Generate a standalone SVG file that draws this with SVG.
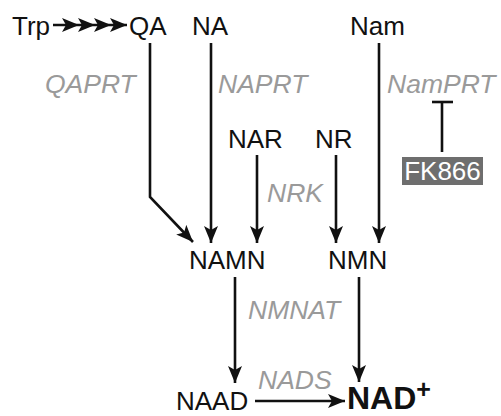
<svg xmlns="http://www.w3.org/2000/svg" width="501" height="416" viewBox="0 0 501 416">
<style>
.n{font-family:"Liberation Sans",Arial,sans-serif;font-size:26px;fill:#111}
.e{font-family:"Liberation Sans",Arial,sans-serif;font-size:26.5px;font-style:italic;fill:#9a9a9a}
.c{fill:none;stroke:#111;stroke-width:2.6}
</style>
<defs>
<marker id="ah" viewBox="0 0 17 14" refX="17" refY="7" markerWidth="17" markerHeight="14" markerUnits="userSpaceOnUse" orient="auto">
<path d="M0,0 L17,7 L0,14 L4,7 Z" fill="#111"/>
</marker>
</defs>
<g id="connectors">
<polyline class="c" points="53,25 79,25 95,25 111,25 127,25" marker-mid="url(#ah)" marker-end="url(#ah)"/>
<polyline class="c" points="150,43 150,197 193,242" marker-end="url(#ah)"/>
<line class="c" x1="211" y1="43" x2="211" y2="243" marker-end="url(#ah)"/>
<line class="c" x1="257" y1="155" x2="257" y2="243" marker-end="url(#ah)"/>
<line class="c" x1="336" y1="155" x2="336" y2="243" marker-end="url(#ah)"/>
<line class="c" x1="379" y1="43" x2="379" y2="243" marker-end="url(#ah)"/>
<line class="c" x1="235" y1="277" x2="235" y2="383" marker-end="url(#ah)"/>
<line class="c" x1="359" y1="277" x2="359" y2="382" marker-end="url(#ah)"/>
<line class="c" x1="255" y1="401" x2="345" y2="401" marker-end="url(#ah)"/>
<line class="c" x1="442" y1="102" x2="442" y2="152" stroke="#333"/>
<line class="c" x1="432" y1="102" x2="453" y2="102" stroke="#333"/>
</g>
<g id="Trp"><text class="n" x="12" y="35">Trp</text></g>
<g id="QA"><text class="n" x="129" y="35">QA</text></g>
<g id="NA"><text class="n" x="192" y="35">NA</text></g>
<g id="Nam"><text class="n" x="350" y="35">Nam</text></g>
<g id="NAR"><text class="n" x="228" y="148">NAR</text></g>
<g id="NR"><text class="n" x="315" y="148">NR</text></g>
<g id="NAMN"><text class="n" x="189" y="269">NAMN</text></g>
<g id="NMN"><text class="n" x="328" y="269">NMN</text></g>
<g id="NAAD"><text class="n" x="176" y="410">NAAD</text></g>
<g id="NAD"><text class="n" x="347" y="409" style="font-size:32px;font-weight:bold">NAD<tspan dy="-11" style="font-size:25px">+</tspan></text></g>
<g id="FK866">
<rect x="402" y="157" width="81" height="28" fill="#6e6e6e"/>
<text class="n" x="442.5" y="180" text-anchor="middle" style="fill:#fff">FK866</text>
</g>
<g id="labels">
<text class="e" x="45" y="93">QAPRT</text>
<text class="e" x="218" y="93">NAPRT</text>
<text class="e" x="387" y="93">NamPRT</text>
<text class="e" x="267" y="202">NRK</text>
<text class="e" x="248" y="319">NMNAT</text>
<text class="e" x="258" y="389">NADS</text>
</g>
</svg>
